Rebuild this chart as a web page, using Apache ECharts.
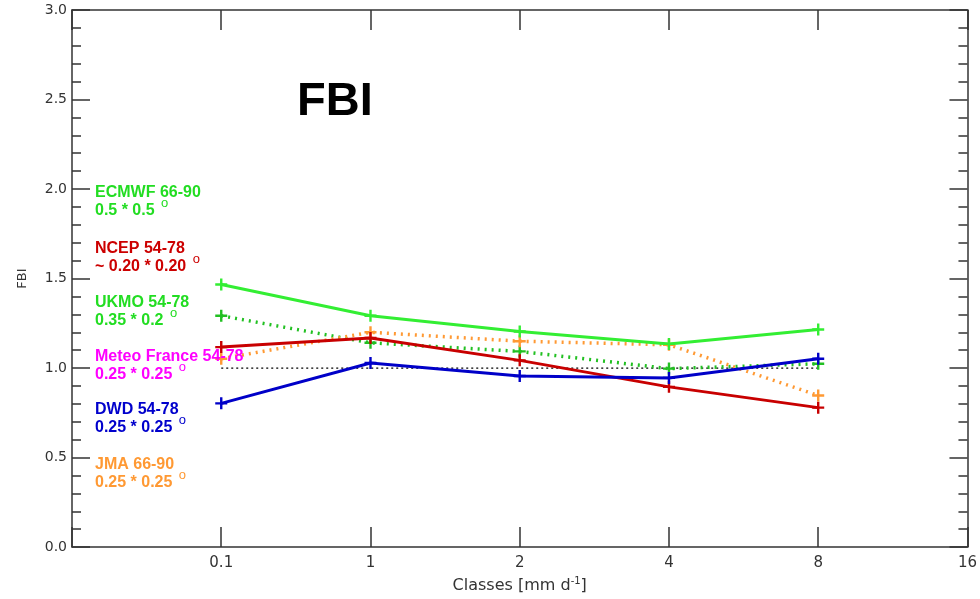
<!DOCTYPE html>
<html>
<head>
<meta charset="utf-8">
<script src="https://cdn.jsdelivr.net/npm/echarts@6/dist/echarts.min.js"></script>
<style>
html,body{margin:0;padding:0;background:#fff;}
#chart{width:980px;height:599px;}
</style>
</head>
<body>
<div id="chart"></div>
<script>
// ---- data ----
const categories = ['', '0.1', '1', '2', '4', '8', '16'];
const ecmwf = [null, 1.467, 1.292, 1.204, 1.135, 1.215];
const ukmo  = [null, 1.292, 1.141, 1.093, 0.997, 1.024];
const ncep  = [null, 1.117, 1.168, 1.043, 0.895, 0.779];
const jma   = [null, 1.052, 1.200, 1.150, 1.130, 0.847];
const dwd   = [null, 0.803, 1.028, 0.956, 0.945, 1.052];
const reference = [null, 1, 1, 1, 1, 1];
const yMin = 0, yMax = 3, yInterval = 0.5;

const modelNames = ['ECMWF 66-90', 'NCEP 54-78', 'UKMO 54-78', 'Meteo France 54-78', 'DWD 54-78', 'JMA 66-90'];
const modelRes   = ['0.5 * 0.5 ', '~ 0.20 * 0.20 ', '0.35 * 0.2 ', '0.25 * 0.25 ', '0.25 * 0.25 ', '0.25 * 0.25 '];

// ---- styles ----
const textColors = ['#22dd22', '#cc0000', '#22dd22', '#ff00ff', '#0000cc', '#ff9933'];
const legendY = [193, 249, 303, 357, 410, 465];
const axisColor = '#333';
const plus = 'path://M4,0h2v4h4v2h-4v4h-2v-4h-4v-2h4z';

const chart = echarts.init(document.getElementById('chart'), null, {renderer: 'canvas'});

function lineSeries(name, data, color, dotted) {
  return {
    name, type: 'line', data, xAxisIndex: 0, yAxisIndex: 0,
    symbol: plus, symbolSize: 12, showSymbol: true,
    itemStyle: {color},
    lineStyle: {color, width: dotted ? 3.5 : 3, type: dotted ? [2, 5] : 'solid'},
    connectNulls: false, animation: false, z: 3
  };
}

const graphics = [];
modelNames.forEach((n, i) => {
  graphics.push({
    type: 'text', x: 95, y: legendY[i], z: 10,
    style: {text: n, fill: textColors[i], font: 'bold 16px "Liberation Sans", Arial, sans-serif', textVerticalAlign: 'middle'}
  });
  graphics.push({
    type: 'text', x: 95, y: legendY[i] + 18, z: 10,
    style: {
      text: '{t|' + modelRes[i] + '}{s|o}',
      fill: textColors[i], textVerticalAlign: 'middle',
      rich: {
        t: {fontSize: 16, fontWeight: 'bold', fontFamily: '"Liberation Sans", Arial, sans-serif', fill: textColors[i], color: textColors[i]},
        s: {fontSize: 13, fontFamily: '"Liberation Sans", Arial, sans-serif', fill: textColors[i], color: textColors[i], padding: [0, 0, 16, 2]}
      }
    }
  });
});
graphics.push({
  type: 'text', x: 297, y: 102, z: 10,
  style: {text: 'FBI', fill: '#000', font: 'bold 47px "Liberation Sans", Arial, sans-serif', textVerticalAlign: 'middle'}
});

const axisLineStyle = {color: axisColor, width: 1.5};
const option = {
  animation: false,
  backgroundColor: '#fff',
  grid: {left: 72, right: 9, top: 10, bottom: 47, containLabel: false},
  xAxis: [{
    type: 'category', data: categories, boundaryGap: false, position: 'bottom',
    axisLine: {onZero: false, lineStyle: axisLineStyle},
    axisTick: {inside: true, length: 20, lineStyle: axisLineStyle, alignWithLabel: true},
    axisLabel: {fontFamily: '"DejaVu Sans", sans-serif', fontSize: 15, color: '#333', margin: 9, interval: 0},
    splitLine: {show: false},
    name: 'Classes [mm d{sup|-1}]', nameLocation: 'middle', nameGap: 24,
    nameTextStyle: {fontFamily: '"DejaVu Sans", sans-serif', fontSize: 16, color: '#333',
      rich: {sup: {fontFamily: '"DejaVu Sans", sans-serif', fontSize: 10, color: '#333', padding: [0, 0, 10, 0]}}}
  }, {
    type: 'category', data: categories, boundaryGap: false, position: 'top',
    axisLine: {onZero: false, lineStyle: axisLineStyle},
    axisTick: {inside: true, length: 20, lineStyle: axisLineStyle},
    axisLabel: {show: false}, splitLine: {show: false}
  }],
  yAxis: [{
    type: 'value', min: yMin, max: yMax, interval: yInterval, position: 'left',
    axisLine: {show: true, onZero: false, lineStyle: axisLineStyle},
    axisTick: {show: true, inside: true, length: 18, lineStyle: axisLineStyle},
    minorTick: {show: true, splitNumber: 5, length: 9, lineStyle: axisLineStyle},
    axisLabel: {fontFamily: '"DejaVu Sans", sans-serif', fontSize: 14, color: '#333', margin: 5,
      formatter: v => v.toFixed(1)},
    splitLine: {show: false},
    name: 'FBI', nameLocation: 'middle', nameGap: 43, nameRotate: 90,
    nameTextStyle: {fontFamily: '"DejaVu Sans", sans-serif', fontSize: 13, color: '#333'}
  }, {
    type: 'value', min: yMin, max: yMax, interval: yInterval, position: 'right',
    axisLine: {show: true, onZero: false, lineStyle: axisLineStyle},
    axisTick: {show: true, inside: true, length: 18, lineStyle: axisLineStyle},
    minorTick: {show: true, splitNumber: 5, length: 9, lineStyle: axisLineStyle},
    axisLabel: {show: false}, splitLine: {show: false}
  }],
  series: [
    {name: 'ref', type: 'line', data: reference, symbol: 'none',
     lineStyle: {color: '#000', width: 1.2, type: [2, 3]}, z: 2, animation: false},
    lineSeries('UKMO', ukmo, '#22c022', true),
    lineSeries('JMA', jma, '#ff9933', true),
    lineSeries('NCEP', ncep, '#c80000', false),
    lineSeries('DWD', dwd, '#0000c8', false),
    lineSeries('ECMWF', ecmwf, '#33ee33', false)
  ],
  graphic: graphics
};
chart.setOption(option);
</script>
</body>
</html>
